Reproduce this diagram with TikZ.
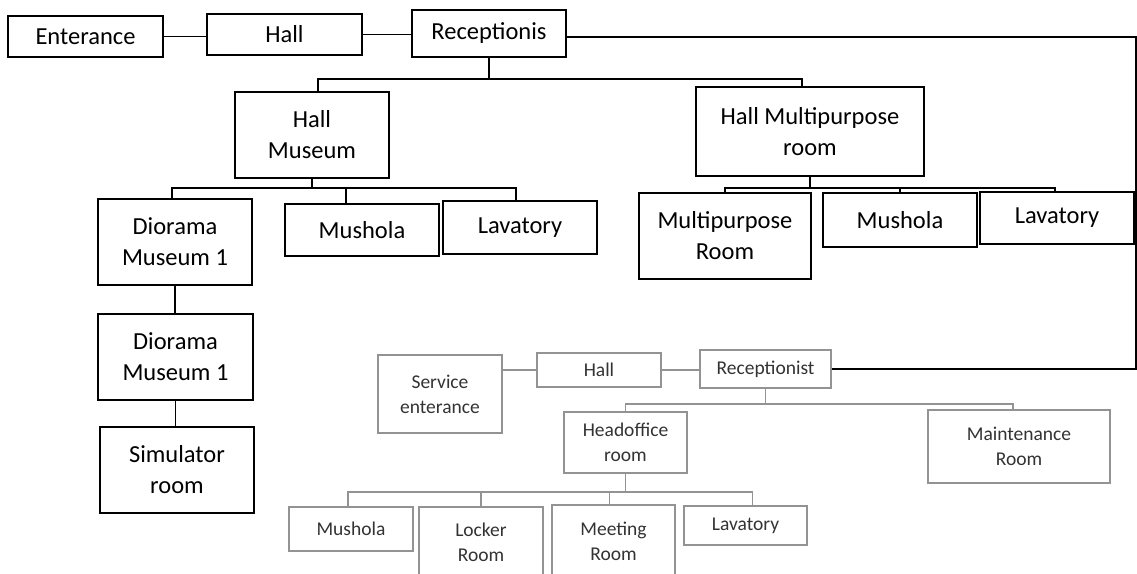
\documentclass[tikz,border=0pt]{standalone}
\usepackage{fontspec}
\setmainfont{Carlito}

\begin{document}
\begin{tikzpicture}[x=1pt, y=-1pt,
  room/.style={rectangle, draw, line width=1.6pt, inner sep=2pt, align=center,
    font=\fontsize{24.5}{31}\selectfont},
  sroom/.style={rectangle, draw=gray!85, line width=1.3pt, inner sep=2pt, align=center,
    text=black!80, font=\fontsize{19.5}{25}\selectfont},
  link/.style={line width=1.5pt},
  slink/.style={line width=1.3pt, draw=gray!85}]

\path[use as bounding box, fill=white] (0,0) rectangle (1137,573);

% Bloque principal
\node[room, minimum width=155pt, minimum height=41pt] (ent) at (85.5,36.5) {Enterance};
\node[room, minimum width=155pt, minimum height=41pt] (hall) at (284.5,34.5) {Hall};
\node[room, minimum width=154pt, minimum height=47pt] (recp) at (489,33.5) {Receptionis};

\node[room, minimum width=154pt, minimum height=86pt] (hmus) at (312,135) {Hall\\Museum};
\node[room, minimum width=228pt, minimum height=89pt] (hmp) at (810,131.5) {Hall Multipurpose\\room};

\node[room, minimum width=154pt, minimum height=86pt] (dio1) at (175,242) {Diorama\\Museum 1};
\node[room, minimum width=155pt, minimum height=86pt] (dio2) at (175.5,357) {Diorama\\Museum 1};
\node[room, minimum width=154pt, minimum height=86pt] (sim) at (177,470) {Simulator\\room};
\node[room, minimum width=154pt, minimum height=52pt] (mus1) at (362,230) {Mushola};
\node[room, minimum width=154pt, minimum height=53pt] (lav1) at (520,227.5) {Lavatory};

\node[room, minimum width=172pt, minimum height=86pt] (mpr) at (725,236) {Multipurpose\\Room};
\node[room, minimum width=154pt, minimum height=54pt] (mus2) at (900,220) {Mushola};
\node[room, minimum width=154pt, minimum height=52pt] (lav2) at (1057,218) {Lavatory};

% Bloque de servicio
\node[sroom, minimum width=124pt, minimum height=78pt] (sent) at (440,394) {Service\\enterance};
\node[sroom, minimum width=124pt, minimum height=34pt] (hall2) at (599,370) {Hall};
\node[sroom, minimum width=131pt, minimum height=38pt] (rcp2) at (765.5,369) {Receptionist};
\node[sroom, minimum width=123pt, minimum height=61pt] (hoff) at (625.5,442.5) {Headoffice\\room};
\node[sroom, minimum width=182pt, minimum height=73pt] (mnt) at (1019,446.5) {Maintenance\\Room};
\node[sroom, minimum width=124pt, minimum height=44pt] (mus3) at (351,529) {Mushola};
\node[sroom, minimum width=124pt, minimum height=70pt] (lock) at (481,542) {Locker\\Room};
\node[sroom, minimum width=123pt, minimum height=72pt] (meet) at (613.5,541) {Meeting\\Room};
\node[sroom, minimum width=123pt, minimum height=39pt] (lav3) at (745.5,525.5) {Lavatory};

% Fila superior
\draw[link] (ent.east) -- (ent.east -| hall.west);
\draw[link] (hall.east) -- (hall.east -| recp.west);
\coordinate (rt) at (1136,37);
\draw[link] (recp.east |- rt) -- (rt) |- (rcp2.east);

% Ramas de Receptionis
\coordinate (b1) at (489,79);
\draw[link] (recp.south) -- (b1);
\draw[link] ([xshift=6pt]hmus.north) |- (b1) -| ([xshift=-8pt]hmp.north);

% Ramas de Hall Museum
\coordinate (b2) at (312,188);
\draw[link] (hmus.south) -- (b2);
\draw[link] ([xshift=-3pt]dio1.north) |- (b2) -| ([xshift=-4pt]lav1.north);
\draw[link] ([xshift=-16pt]mus1.north) -- ([xshift=-16pt]mus1.north |- b2);
\draw[link] (dio1.south) -- (dio1.south |- dio2.north);
\draw[link] (dio2.south) -- (dio2.south |- sim.north);

% Ramas de Hall Multipurpose
\coordinate (b3) at (810,188);
\draw[link] (hmp.south) -- (b3);
\draw[link] (mpr.north) |- (b3) -| ([xshift=-2pt]lav2.north);
\draw[link] (mus2.north) -- (mus2.north |- b3);

% Servicio
\draw[slink] (sent.east |- hall2.west) -- (hall2.west);
\draw[slink] (hall2.east) -- (hall2.east -| rcp2.west);
\coordinate (b4) at (765.5,404);
\draw[slink] (rcp2.south) -- (b4);
\draw[slink] (hoff.north) |- (b4) -| ([xshift=-6pt]mnt.north);
\coordinate (b5) at (625.5,492);
\draw[slink] (hoff.south) -- (b5);
\draw[slink] ([xshift=-3pt]mus3.north) |- (b5) -| ([xshift=7pt]lav3.north);
\draw[slink] (lock.north) -- (lock.north |- b5);
\draw[slink] ([xshift=-4pt]meet.north) -- ([xshift=-4pt]meet.north |- b5);

\end{tikzpicture}
\end{document}
